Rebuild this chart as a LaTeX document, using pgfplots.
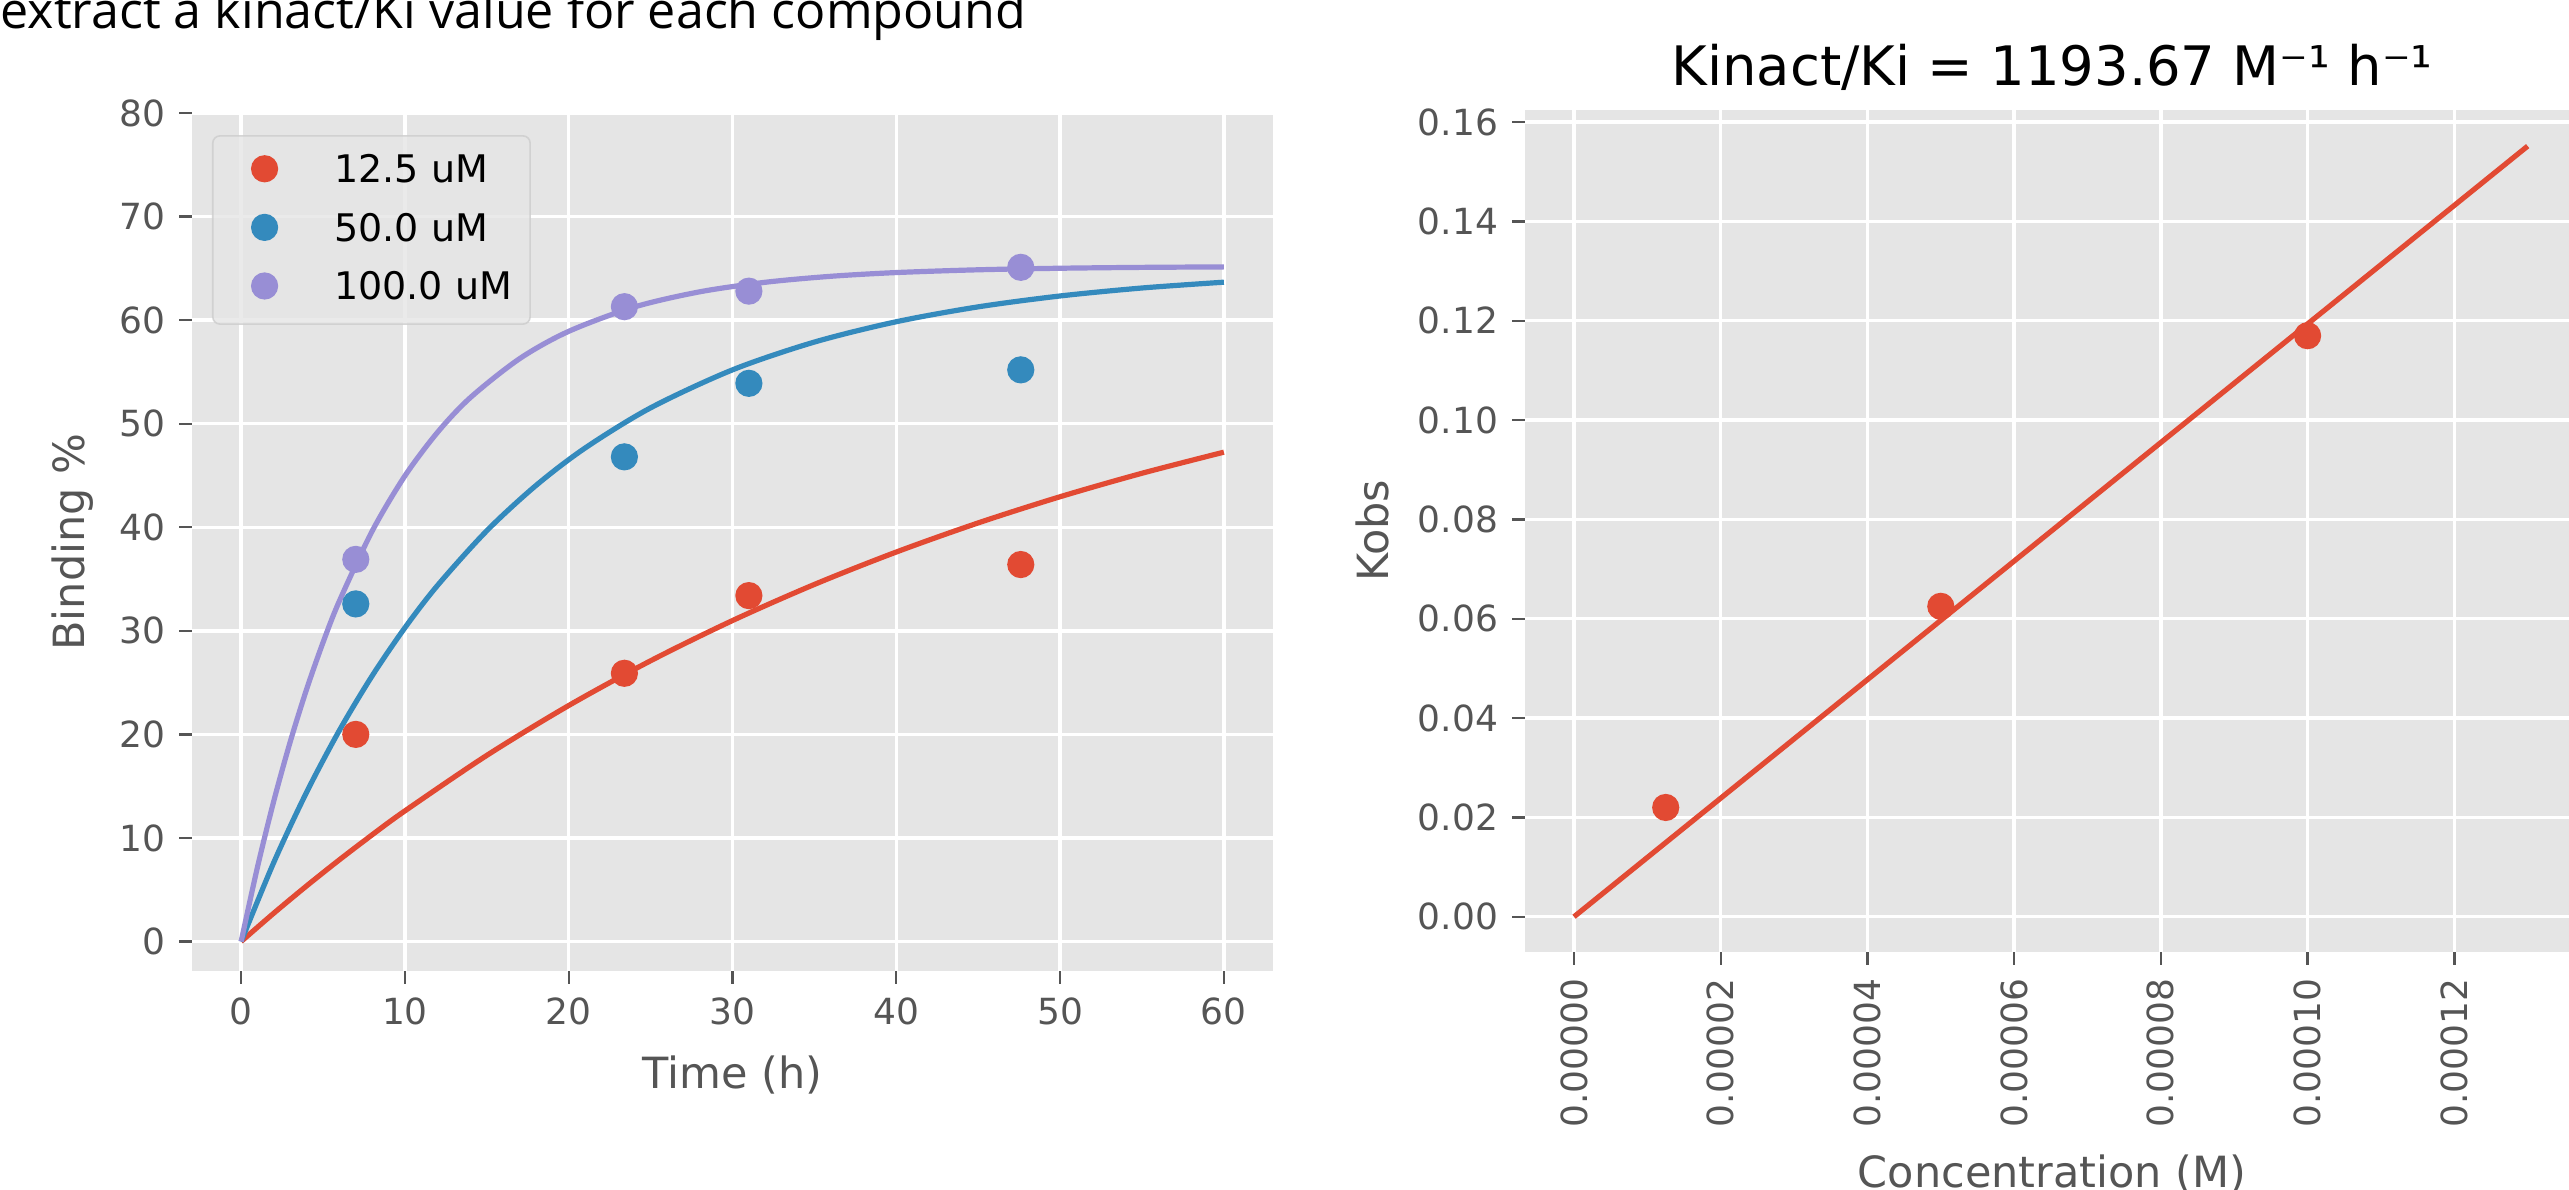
\documentclass[border=0pt]{standalone}
\usepackage{fontspec}
\setmainfont{DejaVu Sans}
\newfontfamily\notefont{Open Sans}
\usepackage{pgfplots}
\pgfplotsset{compat=1.18}

\definecolor{ggred}{HTML}{E24A33}
\definecolor{ggblue}{HTML}{348ABD}
\definecolor{ggpurple}{HTML}{988ED5}
\definecolor{ggbg}{HTML}{E5E5E5}
\definecolor{gggrey}{HTML}{555555}
\definecolor{ggedge}{HTML}{CCCCCC}

\pgfplotsset{
  gg/.style={
    scale only axis,
    axis background/.style={fill=ggbg},
    axis line style={draw=none},
    grid=major, major grid style={white, line width=0.85pt},
    tick align=outside, tick pos=left,
    major tick length=3.2pt,
    tick style={color=gggrey, line width=0.6pt},
    tick label style={font=\fontsize{9}{10}\selectfont, color=gggrey},
    label style={font=\fontsize{10.75}{12}\selectfont, color=gggrey},
    /pgf/number format/assume math mode=true,
  },
  dots/.style={only marks, mark=*, mark size=3.2pt, mark options={draw=#1, fill=#1}, color=#1},
  fit/.style={#1, line width=1.3pt, smooth, forget plot},
}

\begin{document}
\begin{tikzpicture}
\useasboundingbox (0pt,0pt) rectangle (642.25pt,-297.25pt);
\clip (0pt,0pt) rectangle (642.25pt,-297.25pt);

\node[anchor=base west, inner sep=0pt, font=\notefont\fontsize{12.55}{14}\selectfont]
  at (0pt,-7pt) {extract a kinact/Ki value for each compound};

% left panel: binding over time
\begin{axis}[gg,
  at={(48pt,-242.75pt)}, anchor=south west,
  width=270.25pt, height=214.5pt,
  xmin=-3, xmax=63, ymin=-2.85, ymax=80,
  xtick={0,10,...,60}, ytick={0,10,...,80},
  xlabel={Time (h)}, ylabel={Binding \%},
  xlabel style={at={(axis description cs:0.5,0)}, anchor=base, yshift=-29.25pt},
  ylabel style={at={(axis description cs:-0.099,0.5)}, anchor=base},
  legend cell align=left,
  legend image code/.code={\path (-8.25pt,0pt); \draw[#1, fill opacity=1, draw opacity=1] plot coordinates {(0pt,0.65pt)};},
  legend style={at={(axis description cs:0.0185,0.9743)}, anchor=north west,
    font=\fontsize{9.5}{11}\selectfont, fill=ggbg, fill opacity=0.8,
    draw=ggedge, draw opacity=0.8, text opacity=1, rounded corners=1.8pt,
    inner xsep=4.5pt, inner ysep=4.6pt, row sep=6.1pt, column sep=14.25pt,
    nodes={inner sep=0pt}},
]
\addplot[fit=ggred] coordinates {
  (0,0) (2,2.744) (4,5.372) (6,7.891) (8,10.303) (10,12.614) (15,17.974)
  (20,22.787) (25,27.109) (30,30.992) (35,34.480) (40,37.610) (45,40.421)
  (50,42.948) (55,45.215) (60,47.252)};
\addplot[fit=ggblue] coordinates {
  (0,0) (2,7.662) (4,14.422) (6,20.389) (8,25.655) (10,30.301) (12,34.402)
  (15,39.667) (18,44.033) (21,47.652) (25,51.533) (30,55.201) (35,57.884)
  (40,59.848) (45,61.284) (50,62.335) (55,63.105) (60,63.666)};
\addplot[fit=ggpurple] coordinates {
  (0,0) (1,7.199) (2,13.604) (3,19.300) (4,24.369) (5,28.877) (6,32.888)
  (8,39.630) (10,44.964) (12,49.186) (14,52.528) (17,56.279) (20,58.920)
  (24,61.267) (28,62.737) (32,63.657) (36,64.234) (40,64.595) (45,64.863)
  (50,65.012) (55,65.096) (60,65.142)};

\addplot[dots=ggred] coordinates {(7,20.0) (23.4,25.9) (31,33.4) (47.6,36.4)};
\addlegendentry{12.5 uM}
\addplot[dots=ggblue] coordinates {(7,32.6) (23.4,46.8) (31,53.9) (47.6,55.2)};
\addlegendentry{50.0 uM}
\addplot[dots=ggpurple] coordinates {(7,36.9) (23.4,61.3) (31,62.8) (47.6,65.1)};
\addlegendentry{100.0 uM}
\end{axis}

% right panel: kobs against concentration
\begin{axis}[gg,
  at={(381.25pt,-237.93pt)}, anchor=south west,
  width=263.5pt, height=210.4pt,
  xmin=-6.68e-6, xmax=1.37e-4, ymin=-0.00705, ymax=0.16242,
  xtick={0,2e-5,4e-5,6e-5,8e-5,1e-4,1.2e-4},
  ytick={0,0.02,0.04,0.06,0.08,0.10,0.12,0.14,0.16},
  scaled x ticks=false, scaled y ticks=false,
  xticklabel style={rotate=90, anchor=east,
    /pgf/number format/fixed, /pgf/number format/fixed zerofill,
    /pgf/number format/precision=5},
  yticklabel style={/pgf/number format/fixed, /pgf/number format/fixed zerofill,
    /pgf/number format/precision=2},
  xlabel={Concentration (M)}, ylabel={Kobs},
  xlabel style={at={(axis description cs:0.5,0)}, anchor=base, yshift=-59pt},
  ylabel style={at={(axis description cs:-0.1295,0.5)}, anchor=base},
  title={Kinact/Ki = 1193.67 M⁻¹ h⁻¹},
  every axis title shift=0pt,
  title style={at={(axis description cs:0.5,1)}, anchor=base, yshift=6.25pt,
    font=\fontsize{13.6}{15}\selectfont},
]
\addplot[ggred, line width=1.3pt] coordinates {(0,0) (1.3e-4,0.155177)};
\addplot[dots=ggred] coordinates {(1.25e-5,0.0220) (5e-5,0.0625) (1e-4,0.1170)};
\end{axis}
\end{tikzpicture}
\end{document}
